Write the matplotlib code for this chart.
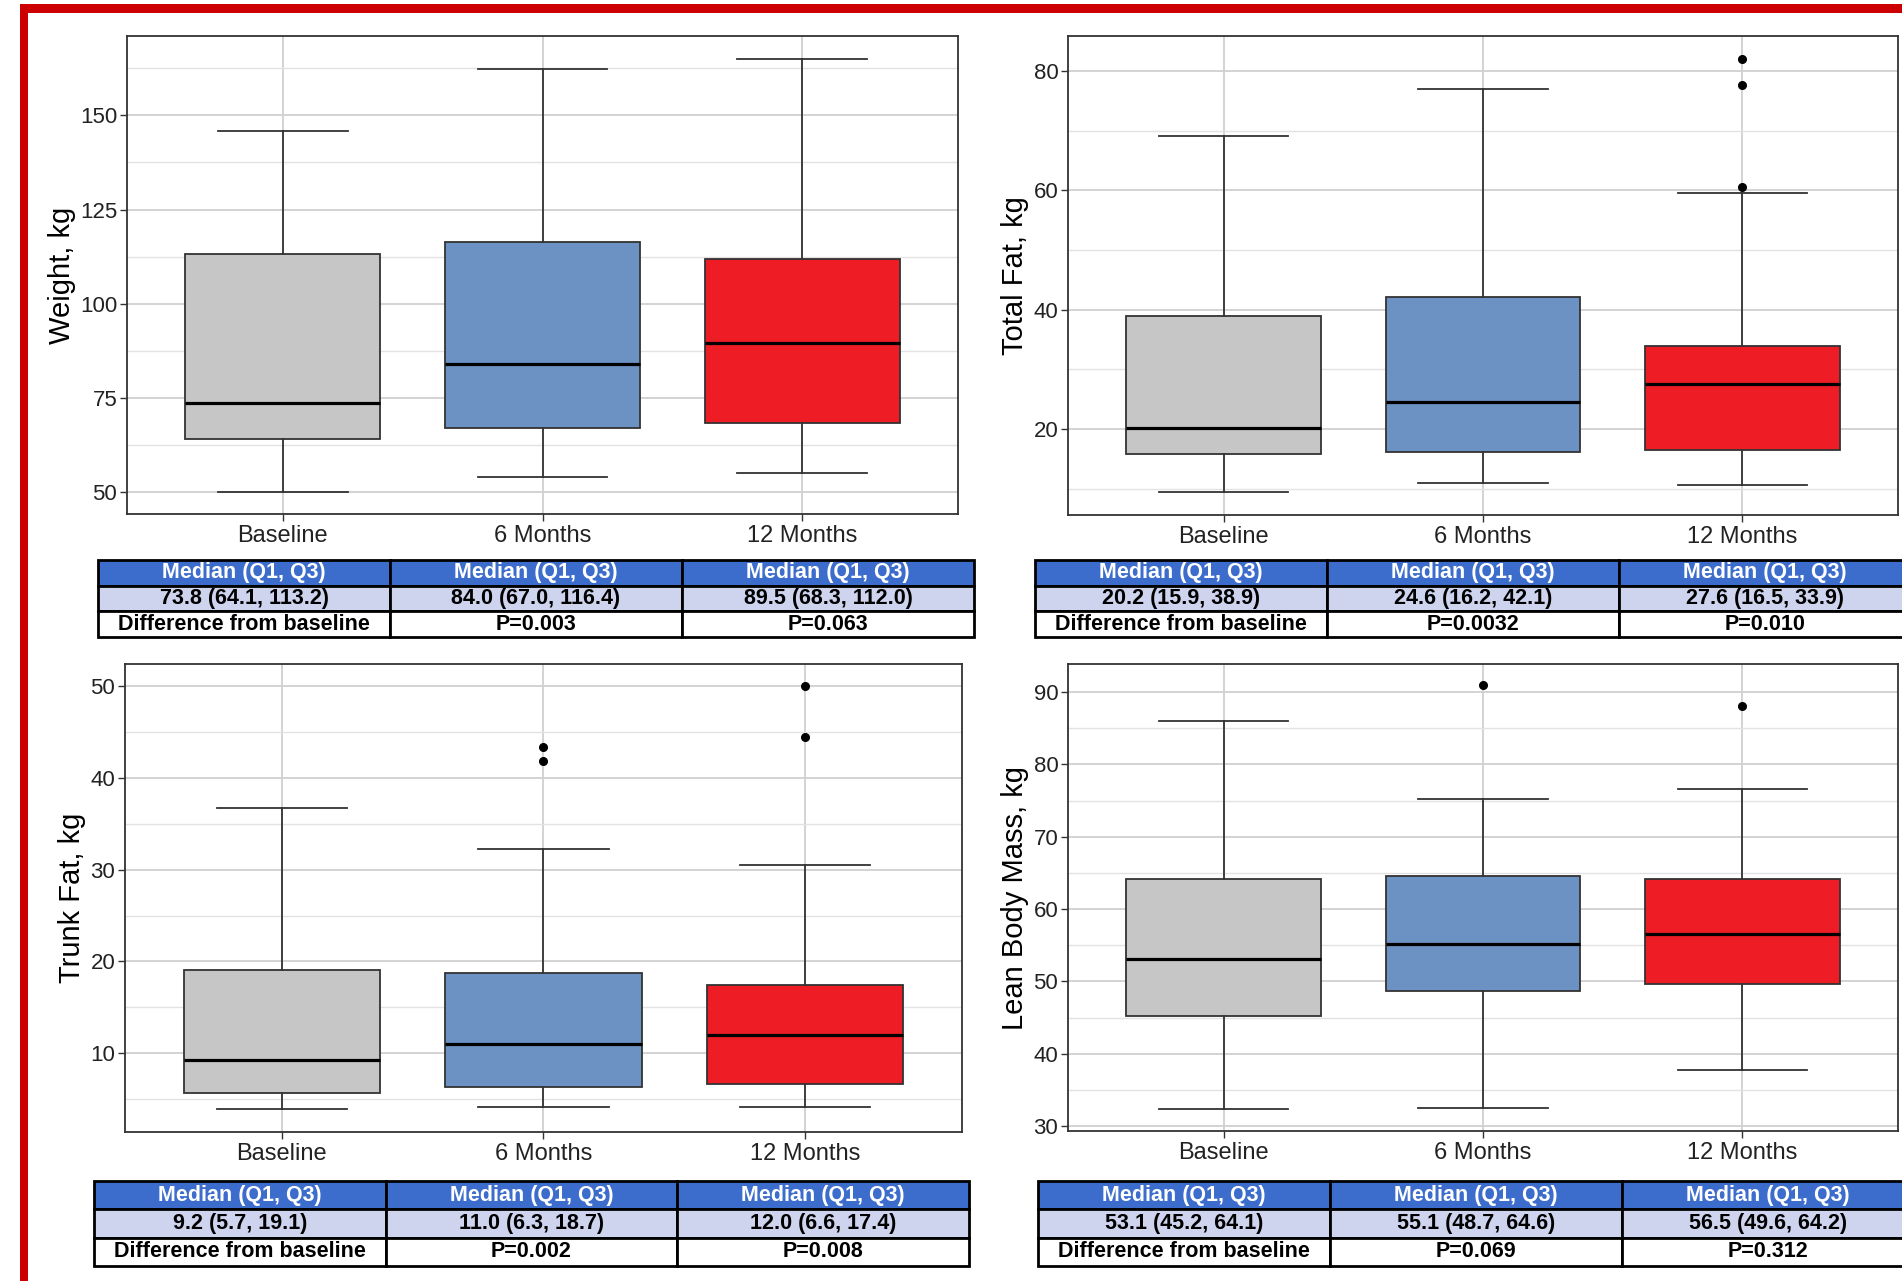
import matplotlib.pyplot as plt
from matplotlib.patches import Rectangle

plt.rcParams['font.family'] = ['Liberation Sans', 'DejaVu Sans']

# figure size in pixels
W = 1902
H = 1281

groups = ['Baseline', '6 Months', '12 Months']
box_colors = ['#C6C6C6', '#6C91C3', '#EE1C24']

# Weight, kg
weight_med = [73.8, 84.0, 89.5]
weight_q1 = [64.1, 67.0, 68.3]
weight_q3 = [113.2, 116.4, 112.0]
weight_lo = [50.0, 54.0, 55.3]
weight_hi = [145.9, 162.2, 165.0]
weight_out = [[], [], []]
weight_p = ['P=0.003', 'P=0.063']

# Total Fat, kg
fat_med = [20.2, 24.6, 27.6]
fat_q1 = [15.9, 16.2, 16.5]
fat_q3 = [38.9, 42.1, 33.9]
fat_lo = [9.4, 11.0, 10.6]
fat_hi = [69.2, 77.0, 59.5]
fat_out = [[], [], [82.0, 77.7, 60.6]]
fat_p = ['P=0.0032', 'P=0.010']

# Trunk Fat, kg
trunk_med = [9.2, 11.0, 12.0]
trunk_q1 = [5.7, 6.3, 6.6]
trunk_q3 = [19.1, 18.7, 17.4]
trunk_lo = [3.9, 4.1, 4.1]
trunk_hi = [36.7, 32.3, 30.5]
trunk_out = [[], [43.4, 41.9], [50.1, 44.5]]
trunk_p = ['P=0.002', 'P=0.008']

# Lean Body Mass, kg
lean_med = [53.1, 55.1, 56.5]
lean_q1 = [45.2, 48.7, 49.6]
lean_q3 = [64.1, 64.6, 64.2]
lean_lo = [32.3, 32.5, 37.7]
lean_hi = [86.0, 75.2, 76.6]
lean_out = [[], [91.0], [88.1]]
lean_p = ['P=0.069', 'P=0.312']


def px(l, t, r, b):
    # pixel box -> figure fraction rect
    return [l / W, 1 - b / H, (r - l) / W, (b - t) / H]


panels = [
    dict(label='Weight, kg', med=weight_med, q1=weight_q1, q3=weight_q3,
         lo=weight_lo, hi=weight_hi, out=weight_out, p=weight_p,
         ylim=(44.3, 171.0), major=[50, 75, 100, 125, 150], step=12.5,
         ax=(127, 36, 958, 514), tab=(98, 560, 974, 637)),
    dict(label='Total Fat, kg', med=fat_med, q1=fat_q1, q3=fat_q3,
         lo=fat_lo, hi=fat_hi, out=fat_out, p=fat_p,
         ylim=(5.6, 85.9), major=[20, 40, 60, 80], step=10,
         ax=(1068, 36, 1898, 515), tab=(1035, 560, 1911, 637)),
    dict(label='Trunk Fat, kg', med=trunk_med, q1=trunk_q1, q3=trunk_q3,
         lo=trunk_lo, hi=trunk_hi, out=trunk_out, p=trunk_p,
         ylim=(1.4, 52.45), major=[10, 20, 30, 40, 50], step=5,
         ax=(125, 664, 962, 1132), tab=(94, 1181, 969, 1266)),
    dict(label='Lean Body Mass, kg', med=lean_med, q1=lean_q1, q3=lean_q3,
         lo=lean_lo, hi=lean_hi, out=lean_out, p=lean_p,
         ylim=(29.3, 93.9), major=[30, 40, 50, 60, 70, 80, 90], step=5,
         ax=(1068, 664, 1898, 1131), tab=(1038, 1181, 1914, 1266)),
]

fig = plt.figure(figsize=(W / 100, H / 100), dpi=100)

for pn in panels:
    ax = fig.add_axes(px(*pn['ax']))
    stats = []
    for i in range(3):
        stats.append(dict(med=pn['med'][i], q1=pn['q1'][i], q3=pn['q3'][i],
                          whislo=pn['lo'][i], whishi=pn['hi'][i],
                          fliers=pn['out'][i]))
    bp = ax.bxp(stats, positions=[1, 2, 3], widths=0.75, capwidths=0.5,
                patch_artist=True, showfliers=True,
                boxprops=dict(edgecolor='#333333', linewidth=1.3),
                medianprops=dict(color='black', linewidth=2.3),
                whiskerprops=dict(color='#333333', linewidth=1.3),
                capprops=dict(color='#333333', linewidth=1.3),
                flierprops=dict(marker='o', markerfacecolor='black',
                                markeredgecolor='black', markersize=5.5))
    for patch, c in zip(bp['boxes'], box_colors):
        patch.set_facecolor(c)

    ax.set_xticks([1, 2, 3])
    ax.set_xticklabels(groups)
    ax.set_yticks(pn['major'])
    lo_lim, hi_lim = pn['ylim']
    minor = [v + pn['step'] for v in pn['major']] + [pn['major'][0] - pn['step']]
    minor = [v for v in minor if lo_lim < v < hi_lim]
    ax.set_yticks(minor, minor=True)
    ax.tick_params(axis='y', which='minor', length=0)
    ax.set_xlim(0.4, 3.6)
    ax.set_ylim(lo_lim, hi_lim)

    ax.set_axisbelow(True)
    ax.yaxis.grid(True, which='major', color='#D0D0D0', linewidth=1.3)
    ax.yaxis.grid(True, which='minor', color='#E2E2E2', linewidth=1.0)
    ax.xaxis.grid(True, which='major', color='#D0D0D0', linewidth=1.3)

    for s in ax.spines.values():
        s.set_color('#333333')
        s.set_linewidth(1.3)
    ax.tick_params(axis='both', which='major', length=5, width=1,
                   color='#333333', labelcolor='#222222')
    ax.tick_params(axis='y', labelsize=16, pad=2)
    ax.tick_params(axis='x', labelsize=17, pad=3)
    ax.set_ylabel(pn['label'], fontsize=21, labelpad=3)

    # summary table under the panel
    tab_ax = fig.add_axes(px(*pn['tab']))
    tab_ax.axis('off')
    rows = [['Median (Q1, Q3)'] * 3,
            ['%.1f (%.1f, %.1f)' % (pn['med'][i], pn['q1'][i], pn['q3'][i])
             for i in range(3)],
            ['Difference from baseline'] + pn['p']]
    tbl = tab_ax.table(cellText=rows, cellLoc='center', bbox=[0, 0, 1, 1])
    tbl.auto_set_font_size(False)
    for (r, c), cell in tbl.get_celld().items():
        cell.set_edgecolor('black')
        cell.set_linewidth(2.0)
        txt = cell.get_text()
        txt.set_fontsize(15.5)
        txt.set_fontweight('bold')
        if r == 0:
            cell.set_facecolor('#3D6DCC')
            txt.set_color('white')
        elif r == 1:
            cell.set_facecolor('#CFD4EE')
        else:
            cell.set_facecolor('white')

# red frame around the figure (only top/left visible in the crop)
fig.patches.append(Rectangle((20 / W, 0), 8 / W, 1 - 4 / H, transform=fig.transFigure,
                             facecolor='#CC0000', edgecolor='none', zorder=10))
fig.patches.append(Rectangle((20 / W, 1 - 12.7 / H), 1, 8.7 / H, transform=fig.transFigure,
                             facecolor='#CC0000', edgecolor='none', zorder=10))

fig.savefig('out.png', dpi=100)
